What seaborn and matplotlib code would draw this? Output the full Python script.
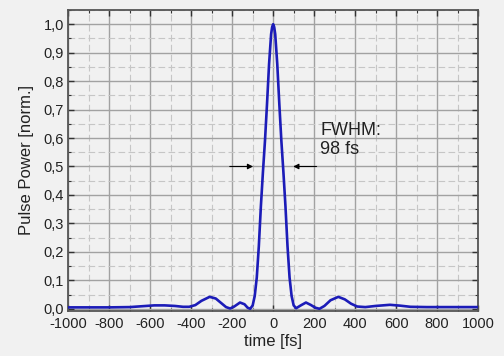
import numpy as np
import pandas as pd
import seaborn as sns
import matplotlib
matplotlib.use("Agg")
from matplotlib import pyplot as plt
from matplotlib.ticker import MultipleLocator, FixedLocator

# pulse shape (time in fs, normalised power)
time_fs = [-1000, -900, -800, -700, -640, -580, -530, -480, -440, -410,
           -380, -350, -310, -280, -250, -230, -210, -190, -162, -140,
           -125, -112, -100, -90, -80, -70, -60, -50, -40, -30,
           -20, -10, -5, 0, 5, 10, 20, 30, 40, 50, 60, 70,
           80, 90, 100, 112, 135, 160, 185, 205, 226, 250,
           280, 318, 350, 380, 410, 450, 500, 570, 620, 670,
           750, 850, 1000]
power = [0.005, 0.005, 0.005, 0.006, 0.009, 0.012, 0.012, 0.010, 0.007, 0.007,
         0.013, 0.028, 0.042, 0.036, 0.018, 0.006, 0.001, 0.008, 0.022, 0.016,
         0.004, 0.000, 0.012, 0.045, 0.11, 0.22, 0.36, 0.48, 0.59, 0.72,
         0.86, 0.965, 0.99, 1.0, 0.99, 0.965, 0.86, 0.72, 0.59, 0.48, 0.36, 0.22,
         0.11, 0.045, 0.012, 0.002, 0.012, 0.022, 0.013, 0.004, 0.000, 0.010,
         0.030, 0.042, 0.033, 0.018, 0.008, 0.006, 0.010, 0.014, 0.011, 0.007,
         0.006, 0.006, 0.006]

x_ticks = [-1000, -800, -600, -400, -200, 0, 200, 400, 600, 800, 1000]
y_ticks = [0.0, 0.1, 0.2, 0.3, 0.4, 0.5, 0.6, 0.7, 0.8, 0.9, 1.0]
y_tick_labels = ["0,0", "0,1", "0,2", "0,3", "0,4", "0,5",
                 "0,6", "0,7", "0,8", "0,9", "1,0"]

df = pd.DataFrame({"time": time_fs, "power": power})

sns.set_style("ticks")
plt.rcParams["font.family"] = ["Liberation Sans", "DejaVu Sans"]
plt.rcParams["axes.unicode_minus"] = False

bg = "#f1f1f1"
fig = plt.figure(figsize=(5.04, 3.56), dpi=100, facecolor=bg)
ax = fig.add_axes([0.1355, 0.127, 0.813, 0.845])
ax.set_facecolor(bg)

sns.lineplot(data=df, x="time", y="power", ax=ax, color="#1c1cb8",
             linewidth=1.9, zorder=3)

ax.set_xlim(-1000, 1000)
ax.set_ylim(-0.007, 1.05)
ax.xaxis.set_major_locator(FixedLocator(x_ticks))
ax.xaxis.set_minor_locator(MultipleLocator(100))
ax.yaxis.set_major_locator(FixedLocator(y_ticks))
ax.yaxis.set_minor_locator(MultipleLocator(0.05))
ax.set_yticklabels(y_tick_labels)

ax.grid(which="major", color="#a2a2a2", linewidth=1.0, linestyle="-", zorder=0)
ax.grid(which="minor", color="#c6c6c6", linewidth=0.8, linestyle=(0, (6, 3)), zorder=0)
ax.set_axisbelow(True)

ax.tick_params(which="both", direction="in", top=True, right=True,
               colors="#333333", labelcolor="#222222")
ax.tick_params(which="major", length=4, width=1.0, labelsize=10.5, pad=3)
ax.tick_params(axis="x", which="major", pad=4.5)
ax.tick_params(which="minor", length=2.5, width=0.8)
for s in ax.spines.values():
    s.set_color("#555555")
    s.set_linewidth(1.3)

ax.set_xlabel("time [fs]", fontsize=12, color="#222222", labelpad=2)
ax.set_ylabel("Pulse Power [norm.]", fontsize=12, color="#222222", labelpad=7)

# FWHM markers
arrow = dict(arrowstyle="-|>", color="black", lw=0.8, mutation_scale=8,
             shrinkA=0, shrinkB=0)
ax.annotate("", xy=(-98, 0.5), xytext=(-212, 0.5), arrowprops=arrow, zorder=4)
ax.annotate("", xy=(98, 0.5), xytext=(212, 0.5), arrowprops=arrow, zorder=4)
ax.text(229, 0.655, "FWHM:\n98 fs", fontsize=13, color="#222222",
        va="top", ha="left", linespacing=1.15)

fig.savefig("out.png", dpi=100, facecolor=bg)
